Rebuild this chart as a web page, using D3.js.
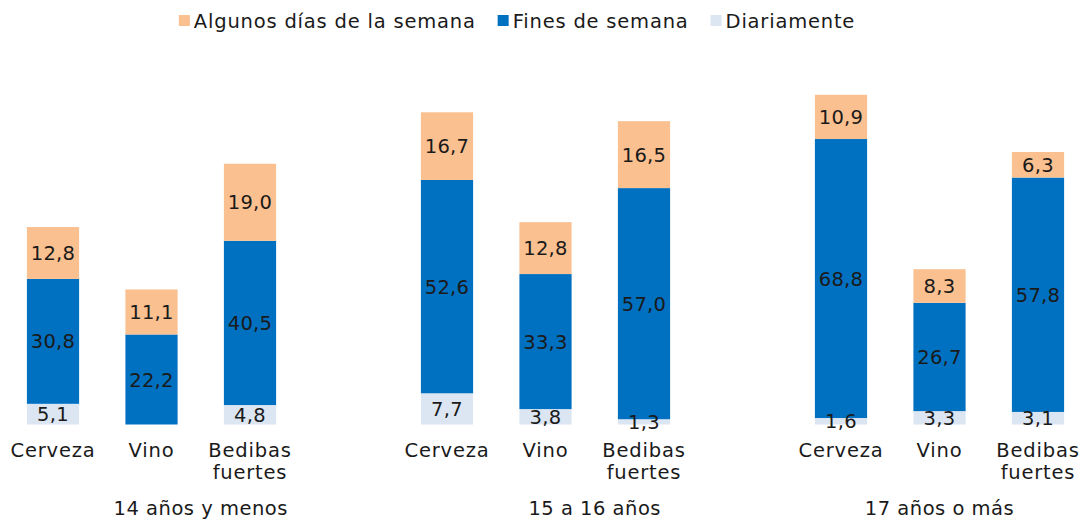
<!DOCTYPE html>
<html>
<head>
	<meta charset="utf-8">
	<title>Consumo de alcohol</title>
	<script src="https://d3js.org/d3.v7.min.js"></script>
	<style>
		body { margin: 0; background: #fff; }
		text { font-family: 'DejaVu Sans', sans-serif; fill: #1a1a1a; }
		.val { font-size: 19.5px; letter-spacing: 0.3px; }
		.cat { font-size: 19.5px; letter-spacing: 0.8px; }
		.grp { font-size: 19.5px; letter-spacing: 0.5px; }
		.leg { font-size: 19.5px; letter-spacing: 0.8px; }
	</style>
</head>
<body>
<script>
	// data
	var groups = ["14 años y menos", "15 a 16 años", "17 años o más"];
	var drinks = ["Cerveza", "Vino", "Bedibas fuertes"];
	var series = ["Diariamente", "Fines de semana", "Algunos días de la semana"];
	var legendOrder = ["Algunos días de la semana", "Fines de semana", "Diariamente"];

	// one value per group x drink, in the order above
	var diariamente = [5.1, 0, 4.8,   7.7, 3.8, 1.3,   1.6, 3.3, 3.1];
	var finesSemana = [30.8, 22.2, 40.5,   52.6, 33.3, 57.0,   68.8, 26.7, 57.8];
	var algunosDias = [12.8, 11.1, 19.0,   16.7, 12.8, 16.5,   10.9, 8.3, 6.3];

	var colors = {
		"Diariamente": "#dce6f2",
		"Fines de semana": "#0070c0",
		"Algunos días de la semana": "#fac090"
	};

	var width = 1081, height = 520;

	var svg = d3.select("body").append("svg")
			.attr("width", width)
			.attr("height", height);

	// build rows: one per bar, with a spacer slot between groups
	var rows = [];
	var slots = [];
	groups.forEach(function(g, gi) {
		if (gi > 0) slots.push("gap" + gi);
		drinks.forEach(function(d, di) {
			var i = gi * drinks.length + di;
			var key = g + "|" + d;
			slots.push(key);
			rows.push({
				key: key, group: g, drink: d,
				"Diariamente": diariamente[i],
				"Fines de semana": finesSemana[i],
				"Algunos días de la semana": algunosDias[i]
			});
		});
	});

	var x = d3.scaleBand()
			.domain(slots)
			.range([3.75, 1087.25])
			.paddingInner(0.47)
			.paddingOuter(0.235);

	var y = d3.scaleLinear()
			.domain([0, 80])
			.range([424.5, 424.5 - 80 * 4.055]);

	var stacked = d3.stack().keys(series)(rows);

	var layer = svg.append("g").selectAll("g")
			.data(stacked)
			.enter().append("g")
			.attr("fill", function(s) { return colors[s.key]; });

	layer.selectAll("rect")
			.data(function(s) { return s.filter(function(d) { return d[1] - d[0] > 0; }); })
			.enter().append("rect")
			.attr("x", function(d) { return x(d.data.key); })
			.attr("y", function(d) { return y(d[1]); })
			.attr("width", x.bandwidth())
			.attr("height", function(d) { return y(d[0]) - y(d[1]); });

	// value labels
	var fmt = function(v) { return d3.format(".1f")(v).replace(".", ","); };
	stacked.forEach(function(s) {
		svg.append("g").selectAll("text")
				.data(s.filter(function(d) { return d[1] - d[0] > 0; }))
				.enter().append("text")
				.attr("class", "val")
				.attr("text-anchor", "middle")
				.attr("x", function(d) { return x(d.data.key) + x.bandwidth() / 2; })
				.attr("y", function(d) { return (y(d[0]) + y(d[1])) / 2; })
				.attr("dy", "0.36em")
				.text(function(d) { return fmt(d[1] - d[0]); });
	});

	// category labels
	var cat = svg.append("g").selectAll("text")
			.data(rows)
			.enter().append("text")
			.attr("class", "cat")
			.attr("text-anchor", "middle")
			.attr("x", function(d) { return x(d.key) + x.bandwidth() / 2; })
			.attr("y", 457);
	cat.each(function(d) {
		var words = d.drink === "Bedibas fuertes" ? ["Bedibas", "fuertes"] : [d.drink];
		var t = d3.select(this);
		words.forEach(function(w, i) {
			t.append("tspan")
					.attr("x", t.attr("x"))
					.attr("dy", i === 0 ? 0 : 22)
					.text(w);
		});
	});

	// group labels (first two sit between Vino and Bedibas, last one under Vino)
	var mid = function(k) { return x(k) + x.bandwidth() / 2; };
	svg.append("g").selectAll("text")
			.data(groups)
			.enter().append("text")
			.attr("class", "grp")
			.attr("text-anchor", "middle")
			.attr("x", function(g, i) {
				if (i < 2) return (mid(g + "|Vino") + mid(g + "|Bedibas fuertes")) / 2;
				return mid(g + "|Vino");
			})
			.attr("y", 515)
			.text(function(g) { return g; });

	// legend
	var leg = svg.append("g");
	var lx = 0;
	legendOrder.forEach(function(k) {
		var item = leg.append("g").attr("transform", "translate(" + lx + ",0)");
		item.append("rect")
				.attr("x", 0).attr("y", 15)
				.attr("width", 11).attr("height", 11)
				.attr("fill", colors[k]);
		var t = item.append("text")
				.attr("class", "leg")
				.attr("x", 15).attr("y", 28)
				.text(k);
		lx += 15 + t.node().getComputedTextLength() + 22;
	});
	var lw = lx - 22;
	leg.attr("transform", "translate(" + (517 - lw / 2) + ",0)");
</script>
</body>
</html>
